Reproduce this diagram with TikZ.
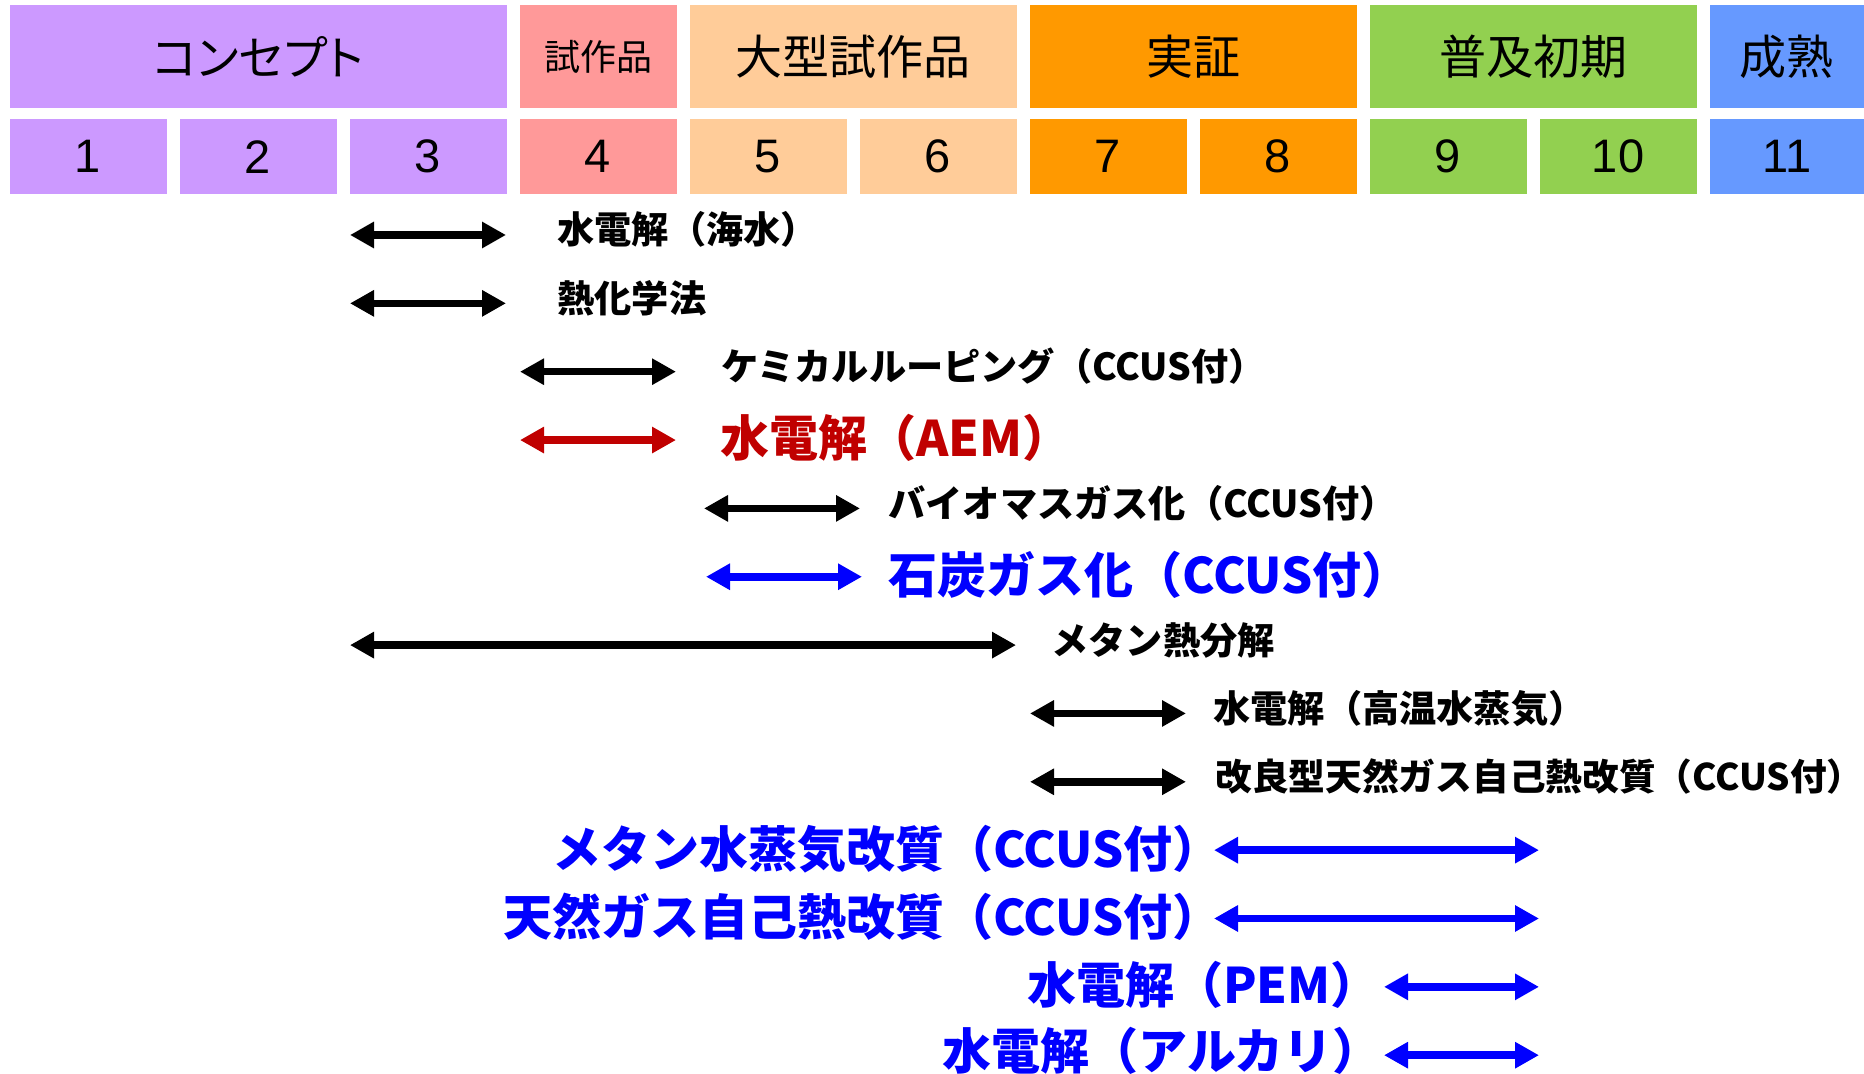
\documentclass[tikz,border=0pt]{standalone}
\usepackage{fontspec}
\newfontfamily\jp{Noto Sans CJK JP}
\newfontfamily\jpp{Noto Sans CJK JP}[RawFeature=+palt]
\newfontfamily\numf{Liberation Sans}
\usetikzlibrary{arrows.meta}
\definecolor{cPur}{HTML}{CC99FF}
\definecolor{cPink}{HTML}{FF9999}
\definecolor{cPeach}{HTML}{FFCC99}
\definecolor{cOrg}{HTML}{FF9900}
\definecolor{cGrn}{HTML}{92D050}
\definecolor{cBlu}{HTML}{6699FF}
\definecolor{tRed}{HTML}{C00000}
\definecolor{tBlue}{HTML}{0000FF}
\tikzset{
  stagebox/.style={fill=#1, draw=none, inner sep=0pt, minimum height=51.75pt,
    font=\jp\fontsize{23.5}{26}\selectfont},
  numbox/.style={fill=#1, draw=none, inner sep=0pt, minimum width=78.5pt, minimum height=37.75pt,
    font=\numf\fontsize{23.5}{26}\selectfont},
  span/.style={line width=3.8pt, {Triangle[length=12pt,width=12.5pt]}-{Triangle[length=12pt,width=12.5pt]}},
  lab/.style={inner sep=0pt, font=\jp\bfseries\fontsize{18.6}{21}\selectfont},
  biglab/.style={inner sep=0pt, font=\jp\bfseries\fontsize{24.5}{27}\selectfont},
}
\begin{document}
\begin{tikzpicture}[x=0.5pt,y=-0.5pt]
\useasboundingbox (0,0) rectangle (1864,1074);
% stage headers
\node[stagebox=cPur, minimum width=248.5pt] (sConcept) at (258,56.75) {\jpp コンセプト};
\node[stagebox=cPink, minimum width=78.5pt, font=\jp\fontsize{18}{20}\selectfont] (sProto) at (598,56.75) {試作品};
\node[stagebox=cPeach, minimum width=163.5pt] (sLarge) at (853,56.75) {大型試作品};
\node[stagebox=cOrg, minimum width=163.5pt] (sDemo) at (1193,56.75) {実証};
\node[stagebox=cGrn, minimum width=163.5pt] (sEarly) at (1533,56.75) {普及初期};
\node[stagebox=cBlu, minimum width=77.25pt] (sMature) at (1786.75,56.75) {成熟};
% level numbers
\node[numbox=cPur] (n1) at (88,156.75) {1};
\node[numbox=cPur] (n2) at (258,156.75) {2};
\node[numbox=cPur] (n3) at (428,156.75) {3};
\node[numbox=cPink] (n4) at (598,156.75) {4};
\node[numbox=cPeach] (n5) at (768,156.75) {5};
\node[numbox=cPeach] (n6) at (938,156.75) {6};
\node[numbox=cOrg] (n7) at (1108,156.75) {7};
\node[numbox=cOrg] (n8) at (1278,156.75) {8};
\node[numbox=cGrn] (n9) at (1448,156.75) {9};
\node[numbox=cGrn] (n10) at (1618,156.75) {10};
\node[numbox=cBlu, minimum width=77.25pt] (n11) at (1786.75,156.75) {11};
% arrow end points
\coordinate (a1l) at (350,235);     \coordinate (a1r) at (506,235);
\coordinate (a2l) at (350,303.35);  \coordinate (a2r) at (506,303.35);
\coordinate (a3l) at (520,371.7);   \coordinate (a3r) at (676,371.7);
\coordinate (a4l) at (520,440.05);  \coordinate (a4r) at (676,440.05);
\coordinate (a5l) at (704,508.4);   \coordinate (a5r) at (860,508.4);
\coordinate (a6l) at (706,576.75);  \coordinate (a6r) at (862,576.75);
\coordinate (a7l) at (350,645.1);   \coordinate (a7r) at (1016,645.1);
\coordinate (a8l) at (1030,713.45); \coordinate (a8r) at (1186,713.45);
\coordinate (a9l) at (1030,781.8);  \coordinate (a9r) at (1186,781.8);
\coordinate (a10l) at (1214,850.15); \coordinate (a10r) at (1539,850.15);
\coordinate (a11l) at (1214,918.5);  \coordinate (a11r) at (1539,918.5);
\coordinate (a12l) at (1384,986.85); \coordinate (a12r) at (1539,986.85);
\coordinate (a13l) at (1384,1055.2); \coordinate (a13r) at (1539,1055.2);
% arrows
\draw[span] (a1l) -- (a1r);
\draw[span] (a2l) -- (a2r);
\draw[span] (a3l) -- (a3r);
\draw[span, tRed] (a4l) -- (a4r);
\draw[span] (a5l) -- (a5r);
\draw[span, tBlue] (a6l) -- (a6r);
\draw[span] (a7l) -- (a7r);
\draw[span] (a8l) -- (a8r);
\draw[span] (a9l) -- (a9r);
\draw[span, tBlue] (a10l) -- (a10r);
\draw[span, tBlue] (a11l) -- (a11r);
\draw[span, tBlue] (a12l) -- (a12r);
\draw[span, tBlue] (a13l) -- (a13r);
% labels
\node[lab, anchor=base west] (t1) at (557,244) {水電解（海水）};
\node[lab, anchor=base west] (t2) at (557,312.35) {熱化学法};
\node[lab, anchor=base west] (t3) at (721,380.7) {ケミカルルーピング（CCUS付）};
\node[biglab, anchor=base west, text=tRed] (t4) at (720,457) {水電解（AEM）};
\node[lab, anchor=base west] (t5) at (888,517.4) {バイオマスガス化（CCUS付）};
\node[biglab, anchor=base west, text=tBlue] (t6) at (888,593.75) {石炭ガス化（CCUS付）};
\node[lab, anchor=base west] (t7) at (1051,654.1) {メタン熱分解};
\node[lab, anchor=base west] (t8) at (1213,722.45) {水電解（高温水蒸気）};
\node[lab, anchor=base west, font=\jp\bfseries\fontsize{18.35}{21}\selectfont] (t9) at (1215,790.8) {改良型天然ガス自己熱改質（CCUS付）};
\node[biglab, anchor=base east, text=tBlue] (t10) at (1222,867.15) {メタン水蒸気改質（CCUS付）};
\node[biglab, anchor=base east, text=tBlue] (t11) at (1222,935.5) {天然ガス自己熱改質（CCUS付）};
\node[biglab, anchor=base east, text=tBlue] (t12) at (1380,1003.85) {水電解（PEM）};
\node[biglab, anchor=base east, text=tBlue] (t13) at (1382,1069.5) {水電解（アルカリ）};
\end{tikzpicture}
\end{document}
